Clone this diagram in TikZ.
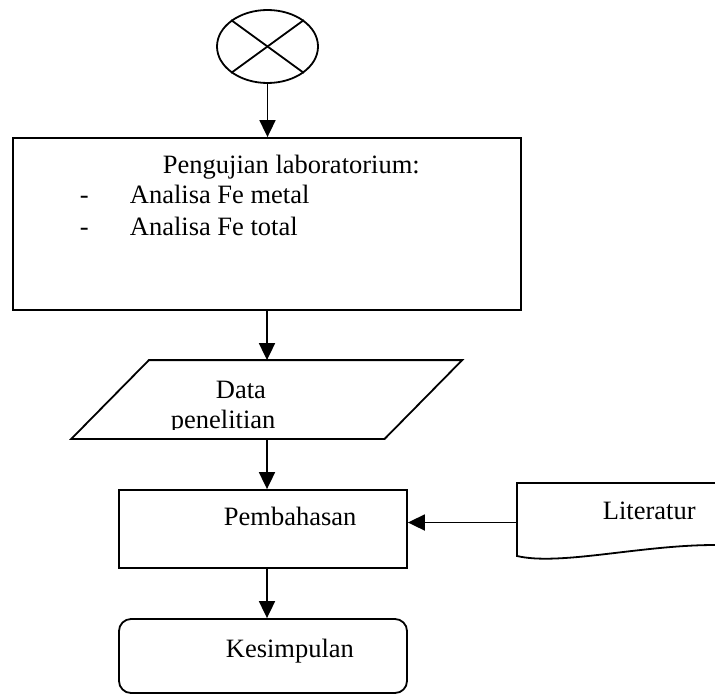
\documentclass[tikz,border=0pt]{standalone}
\usepackage{fontspec}
\setmainfont{Liberation Serif}
\usetikzlibrary{shapes.geometric,arrows.meta}

\begin{document}
\begin{tikzpicture}[x=0.5pt,y=-0.5pt,line width=0.9pt,
    font=\fontsize{13.25}{16}\selectfont,
    arr/.style={-{Triangle[length=8.5pt,width=8pt]}},
    box/.style={draw,rectangle,inner sep=0pt},
    txt/.style={anchor=base west,inner sep=0pt}]
    \useasboundingbox (0,0) rectangle (715,695);

    \node[draw,ellipse,inner sep=0pt,minimum width=50.5pt,minimum height=36.5pt] (start) at (267.5,46.5) {};
    \draw (start.north west) -- (start.south east);
    \draw (start.north east) -- (start.south west);

    \node[box,minimum width=254pt,minimum height=86pt] (uji) at (267,224) {};
    \node[txt] (ujiT) at (162,173) {Pengujian laboratorium:};
    \node[txt] (dashA) at (79,203) {-};
    \node[txt] (feMetal) at (129,203) {Analisa Fe metal};
    \node[txt] (dashB) at (79,235) {-};
    \node[txt] (feTotal) at (129,235) {Analisa Fe total};

    % data penelitian (jajaran genjang)
    \node[inner sep=0pt,minimum width=155.75pt,minimum height=38.5pt] (data) at (266.75,399.5) {};
    \draw ([xshift=19.4pt]data.north west) -- ([xshift=19.4pt]data.north east)
        -- ([xshift=-19.4pt]data.south east) -- ([xshift=-19.4pt]data.south west) -- cycle;
    \node[txt] (dataA) at (215,398) {Data};
    \begin{scope}
        \clip (0,0) rectangle (715,429.5);
        \node[txt] (dataB) at (170,428.5) {penelitian};
    \end{scope}

    \node[box,minimum width=144pt,minimum height=39pt] (bahas) at (263,529) {};
    \node[txt] (bahasT) at (223,525) {Pembahasan};

    % literatur (dokumen)
    \draw (760,483) -- (517,483) -- (517,556) .. controls (560,566) and (640,545) .. (715,545) -- (760,545);
    \coordinate (litL) at (517,522.5);
    \node[txt] (litT) at (602,519) {Literatur};

    \node[box,rounded corners=6pt,minimum width=144pt,minimum height=37pt] (simpul) at (263,656) {};
    \node[txt] (simpulT) at (225,657) {Kesimpulan};

    \draw[arr] (start.south) -- (start.south |- uji.north);
    \draw[arr] (uji.south) -- (uji.south |- data.north);
    \draw[arr] (uji.south |- data.south) -- (uji.south |- bahas.north);
    \draw[arr] (uji.south |- bahas.south) -- (uji.south |- simpul.north);
    \draw[arr] (litL) -- (litL -| bahas.east);
\end{tikzpicture}
\end{document}
